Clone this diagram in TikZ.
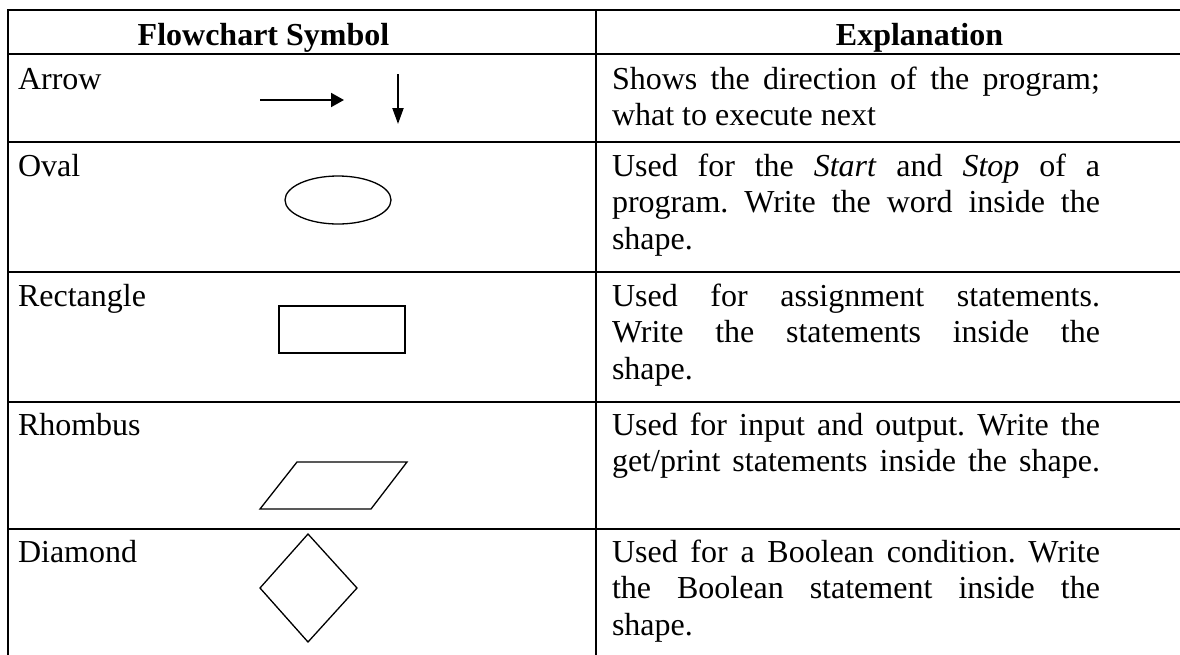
\documentclass[tikz,border=0pt]{standalone}
\usepackage{fontspec}
\setmainfont{Liberation Serif}
\usetikzlibrary{arrows.meta,shapes.geometric}
\frenchspacing
\tikzset{
  grid/.style={line width=2pt, line cap=rect},
  shapeline/.style={line width=1.3pt, line join=miter},
  arrowline/.style={line width=2pt, -{Triangle[length=13pt,width=14pt]}},
  varrowline/.style={line width=2pt, -{Triangle[length=16pt,width=11pt]}},
  txt/.style={inner sep=0pt, outer sep=0pt, anchor=base west, font=\fontsize{32}{36.8}\selectfont},
  hdr/.style={inner sep=0pt, outer sep=0pt, anchor=base, font=\fontsize{32}{36.8}\selectfont\bfseries},
}
\newcommand{\jline}[1]{\makebox[488pt][s]{#1}}
\begin{document}
\begin{tikzpicture}[x=1pt,y=-1pt]
\useasboundingbox (0,0) rectangle (1180,654);
\fill[white] (0,0) rectangle (1180,654);
% table grid
\foreach \yy in {10,54,142,272,402,529} \draw[grid] (8,\yy) -- (1190,\yy);
\draw[grid] (8,10) -- (8,670);
\draw[grid] (596,10) -- (596,670);
% headers
\node[hdr] (h1) at (263.5,45) {Flowchart Symbol};
\node[hdr] (h2) at (919.5,45) {Explanation};
% left labels
\node[txt] (l1) at (18,89) {Arrow};
\node[txt] (l2) at (18,176) {Oval};
\node[txt] (l3) at (18,306) {Rectangle};
\node[txt] (l4) at (18,435) {Rhombus};
\node[txt] (l5) at (18,562) {Diamond};
% explanations
\node[txt] (e1a) at (612,89) {\jline{Shows the direction of the program;}};
\node[txt] (e1b) at (612,125.8) {what to execute next};
\node[txt] (e2a) at (612,176) {\jline{Used for the \textit{Start} and \textit{Stop} of a}};
\node[txt] (e2b) at (612,212.8) {\jline{program. Write the word inside the}};
\node[txt] (e2c) at (612,249.6) {shape.};
\node[txt] (e3a) at (612,306) {\jline{Used for assignment statements.}};
\node[txt] (e3b) at (612,342.8) {\jline{Write the statements inside the}};
\node[txt] (e3c) at (612,379.6) {shape.};
\node[txt] (e4a) at (612,435) {\jline{Used for input and output. Write the}};
\node[txt] (e4b) at (612,471.8) {\jline{get/print statements inside the shape.}};
\node[txt] (e5a) at (612,562) {\jline{Used for a Boolean condition. Write}};
\node[txt] (e5b) at (612,598.8) {\jline{the Boolean statement inside the}};
\node[txt] (e5c) at (612,635.6) {shape.};
% arrow symbols
\coordinate (ha) at (260,100);
\coordinate (hb) at (344,100);
\draw[arrowline] (ha) -- (hb);
\coordinate (va) at (398,74);
\coordinate (vb) at (398,124);
\draw[varrowline] (va) -- (vb);
% oval
\node[shapeline, draw, ellipse, minimum width=106pt, minimum height=48pt, inner sep=0pt] (oval) at (338,200) {};
% rectangle
\node[shapeline, draw, rectangle, minimum width=126pt, minimum height=47pt, inner sep=0pt] (rect) at (342,329.5) {};
% parallelogram
\draw[shapeline] (297,462) -- (407,462) -- (371,509) -- (260,509) -- cycle;
% diamond
\draw[shapeline] (308,534) -- (357,588) -- (308,642) -- (260,588) -- cycle;
\end{tikzpicture}
\end{document}
